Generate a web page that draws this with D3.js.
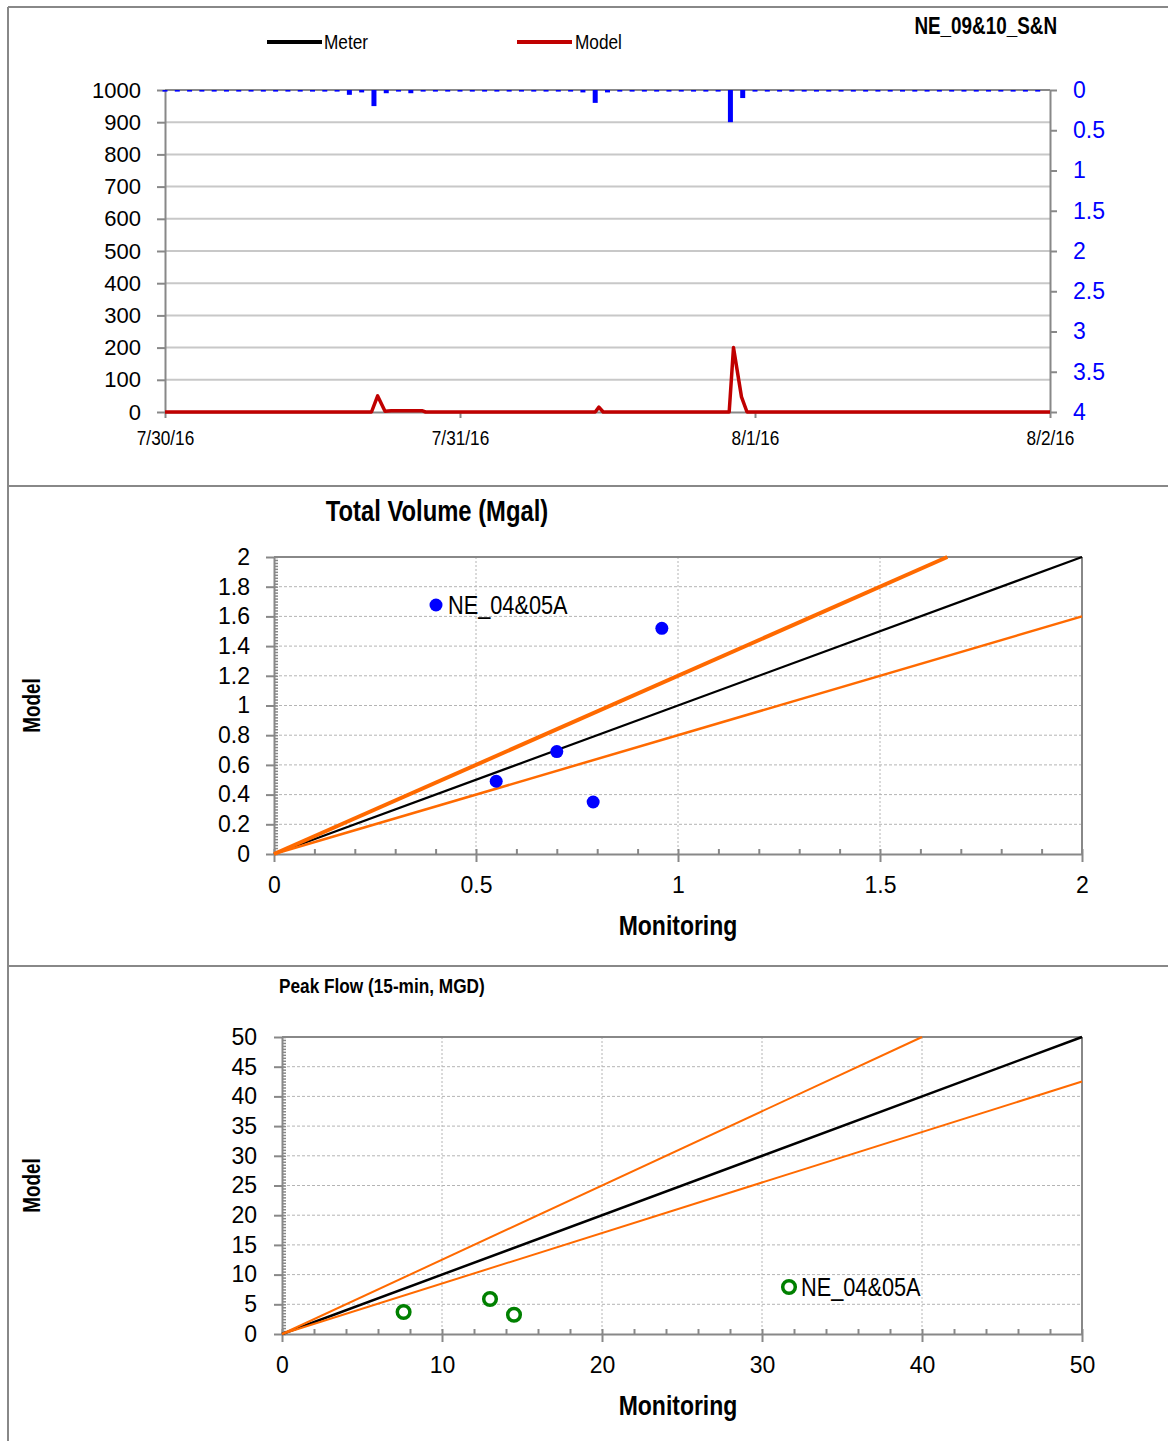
<!DOCTYPE html>
<html>
<head>
<meta charset="utf-8">
<script src="https://cdn.jsdelivr.net/npm/d3@7"></script>
<style>
body{margin:0;background:#fff;}
svg text{font-family:"Liberation Sans",Arial,sans-serif;fill:#000;}
</style>
</head>
<body>
<svg class="svg" width="1168" height="1441"></svg>
<script>
// ---- top chart: hydrograph + rainfall ----
let dateLabels = ['7/30/16','7/31/16','8/1/16','8/2/16'];
let flowTicks = [0,100,200,300,400,500,600,700,800,900,1000];
let rainTicks = [0,0.5,1,1.5,2,2.5,3,3.5,4];
// hourly rain (in), hour 0 = 7/30/16 00:00
let rainHourly = [
    0.02,0.02,0.02,0.02,0.02,0.02,0.02,0.02,0.02,0.02,0.02,0.02,
    0.02,0.02,0.02,0.06,0.03,0.2,0.04,0.02,0.04,0.02,0.02,0.02,
    0.02,0.02,0.02,0.02,0.02,0.02,0.02,0.02,0.02,0.02,0.03,0.16,
    0.03,0.02,0.02,0.02,0.02,0.02,0.02,0.02,0.02,0.02,0.4,0.1,
    0.02,0.02,0.02,0.02,0.02,0.02,0.02,0.02,0.02,0.02,0.02,0.02,
    0.02,0.02,0.02,0.02,0.02,0.02,0.02,0.02,0.02,0.02,0.02,0.02
];
let modelHours = [0,16.8,17.3,17.9,18.4,20.9,21.2,35.0,35.3,35.65,45.9,46.25,46.9,47.35,72];
let modelFlow  = [0,0,50,2,4,4,0,0,15,0,0,200,47,0,0];
let meterHours = [];
let meterFlow = [];

// ---- scatter charts ----
let volTicks = [0,0.2,0.4,0.6,0.8,1,1.2,1.4,1.6,1.8,2];
let volXTicks = [0,0.5,1,1.5,2];
let volMonitoring = [0.55,0.70,0.79,0.96];
let volModel = [0.49,0.69,0.35,1.52];
let volSlopes = [1,1.2,0.8];

let peakTicks = [0,5,10,15,20,25,30,35,40,45,50];
let peakXTicks = [0,10,20,30,40,50];
let peakMonitoring = [7.6,13.0,14.5];
let peakModel = [3.7,5.9,3.25];
let peakSlopes = [1,1.25,0.85];

let siteName = 'NE_04&05A';
let axisGray = '#888888';
let orange = '#ff6a00';

let svg = d3.select('.svg');

function hourDate(h) {
    return new Date(new Date(2016,6,30).getTime() + h*3600*1000);
}

function styleAxis(g, color) {
    g.selectAll('.domain').attr('stroke',axisGray).attr('stroke-width',2);
    g.selectAll('.tick line').attr('stroke',axisGray).attr('stroke-width',2);
    g.selectAll('.tick text').attr('fill',color || '#000');
}

// frame
svg.append('line').attr('x1',8).attr('y1',7).attr('x2',8).attr('y2',1441).attr('stroke',axisGray).attr('stroke-width',2);
svg.append('line').attr('x1',8).attr('y1',7).attr('x2',1168).attr('y2',7).attr('stroke',axisGray).attr('stroke-width',2);
svg.append('line').attr('x1',8).attr('y1',486).attr('x2',1168).attr('y2',486).attr('stroke',axisGray).attr('stroke-width',2);
svg.append('line').attr('x1',8).attr('y1',966).attr('x2',1168).attr('y2',966).attr('stroke',axisGray).attr('stroke-width',2);

function drawHydrograph() {
    let xTime = d3.scaleTime().domain([hourDate(0),hourDate(72)]).range([165,1050]);
    let flowY = d3.scaleLinear().domain([0,1000]).range([412,90]);
    let rainY = d3.scaleLinear().domain([0,4]).range([90,412]);

    let g = svg.append('g').attr('class','hydro');

    // gridlines
    g.selectAll('.grid').data(flowTicks.slice(1,-1)).enter().append('line')
        .attr('x1',165).attr('x2',1050)
        .attr('y1',function (d) { return flowY(d); })
        .attr('y2',function (d) { return flowY(d); })
        .attr('stroke','#c8c8c8').attr('stroke-width',2);
    g.append('line').attr('x1',165).attr('x2',1050).attr('y1',flowY(1000)).attr('y2',flowY(1000))
        .attr('stroke',axisGray).attr('stroke-width',2);

    let left = g.append('g').attr('transform','translate(165,0)')
        .call(d3.axisLeft(flowY).tickValues(flowTicks).tickSize(8).tickSizeOuter(0).tickPadding(16).tickFormat(d3.format('')));
    styleAxis(left);
    left.selectAll('.tick text').attr('font-size',22);

    let right = g.append('g').attr('transform','translate(1050,0)')
        .call(d3.axisRight(rainY).tickValues(rainTicks).tickSize(7).tickSizeOuter(0).tickPadding(16).tickFormat(d3.format('')));
    styleAxis(right,'#0000ff');
    right.selectAll('.tick text').attr('font-size',23).style('fill','#0000ff');

    let dates = dateLabels.map(function (d,i) { return hourDate(i*24); });
    let bottom = g.append('g').attr('transform','translate(0,412)')
        .call(d3.axisBottom(xTime).tickValues(dates).tickSize(6).tickSizeOuter(0).tickPadding(12)
            .tickFormat(function (d,i) { return dateLabels[i]; }));
    styleAxis(bottom);
    bottom.selectAll('.tick text').attr('font-size',21).attr('class','narrow');

    // rain bars hang from top
    g.selectAll('.rain').data(rainHourly).enter().append('rect')
        .attr('class','rain')
        .attr('x',function (d,i) { return xTime(hourDate(i)) - 2.5; })
        .attr('y',rainY(0))
        .attr('width',5)
        .attr('height',function (d) { return rainY(d) - rainY(0); })
        .attr('fill','#0000ff');

    let line = d3.line()
        .x(function (d) { return xTime(hourDate(d[0])); })
        .y(function (d) { return flowY(d[1]); });
    if (meterHours.length > 0) {
        g.append('path').datum(d3.zip(meterHours,meterFlow)).attr('d',line)
            .attr('fill','none').attr('stroke','#000').attr('stroke-width',3.5);
    }
    g.append('path').datum(d3.zip(modelHours,modelFlow)).attr('d',line)
        .attr('fill','none').attr('stroke','#c00000').attr('stroke-width',3.5)
        .attr('stroke-linejoin','round');

    // legend + title
    g.append('line').attr('x1',267).attr('x2',322).attr('y1',42).attr('y2',42).attr('stroke','#000').attr('stroke-width',4);
    g.append('text').attr('class','narrow').attr('x',324).attr('y',49).attr('font-size',21).text('Meter');
    g.append('line').attr('x1',517).attr('x2',572).attr('y1',42).attr('y2',42).attr('stroke','#c00000').attr('stroke-width',4);
    g.append('text').attr('class','narrow').attr('x',575).attr('y',49).attr('font-size',21).text('Model');
    g.append('text').attr('class','narrow').attr('x',1057).attr('y',34).attr('text-anchor','end')
        .attr('font-size',23).attr('font-weight','bold').text('NE_09&10_S&N');
}

function drawScatter(opt) {
    let x = d3.scaleLinear().domain([0,opt.max]).range([opt.left,1082]);
    let y = d3.scaleLinear().domain([0,opt.max]).range([opt.bottom,opt.top]);
    let g = svg.append('g');

    // dashed grid
    g.selectAll('.hgrid').data(opt.yTicks.slice(1,-1)).enter().append('line')
        .attr('x1',opt.left).attr('x2',1082)
        .attr('y1',function (d) { return y(d); }).attr('y2',function (d) { return y(d); })
        .attr('stroke','#b4b4b4').attr('stroke-width',1).attr('stroke-dasharray','3,2');
    g.selectAll('.vgrid').data(opt.xTicks.slice(1,-1)).enter().append('line')
        .attr('y1',opt.top).attr('y2',opt.bottom)
        .attr('x1',function (d) { return x(d); }).attr('x2',function (d) { return x(d); })
        .attr('stroke','#b4b4b4').attr('stroke-width',1).attr('stroke-dasharray','2,2');

    // box
    g.append('line').attr('x1',opt.left).attr('x2',1082).attr('y1',opt.top).attr('y2',opt.top)
        .attr('stroke',axisGray).attr('stroke-width',2);
    g.append('line').attr('x1',1082).attr('x2',1082).attr('y1',opt.top).attr('y2',opt.bottom)
        .attr('stroke',axisGray).attr('stroke-width',2);

    // minor ticks, inside
    let yMinor = g.append('g').attr('transform','translate(' + opt.left + ',0)')
        .call(d3.axisRight(y).ticks(100).tickSize(4).tickFormat(''));
    yMinor.select('.domain').remove();
    yMinor.selectAll('.tick line').attr('stroke',axisGray).attr('stroke-width',1.5);
    let xMinor = g.append('g').attr('transform','translate(0,' + opt.bottom + ')')
        .call(d3.axisTop(x).ticks(opt.xMinor).tickSize(5).tickFormat(''));
    xMinor.select('.domain').remove();
    xMinor.selectAll('.tick line').attr('stroke',axisGray).attr('stroke-width',2);

    let yAxis = g.append('g').attr('transform','translate(' + opt.left + ',0)')
        .call(d3.axisLeft(y).tickValues(opt.yTicks).tickSize(8).tickSizeOuter(0).tickPadding(opt.yPad).tickFormat(d3.format('')));
    styleAxis(yAxis);
    yAxis.selectAll('.tick text').attr('font-size',23);
    let xAxis = g.append('g').attr('transform','translate(0,' + opt.bottom + ')')
        .call(d3.axisBottom(x).tickValues(opt.xTicks).tickSize(8).tickSizeOuter(0).tickPadding(15).tickFormat(d3.format('')));
    styleAxis(xAxis);
    xAxis.selectAll('.tick text').attr('font-size',23);

    // reference lines
    g.selectAll('.ref').data(opt.slopes).enter().append('line')
        .attr('x1',x(0)).attr('y1',y(0))
        .attr('x2',function (d) { return x(Math.min(opt.max, opt.max / d)); })
        .attr('y2',function (d) { return y(Math.min(opt.max, opt.max / d) * d); })
        .attr('stroke',function (d,i) { return i === 0 ? '#000' : orange; })
        .attr('stroke-width',function (d,i) { return opt.widths[i]; });

    // points
    let pts = g.selectAll('.pt').data(d3.zip(opt.xs,opt.ys)).enter().append('circle')
        .attr('cx',function (d) { return x(d[0]); })
        .attr('cy',function (d) { return y(d[1]); });
    if (opt.hollow) {
        pts.attr('r',6.3).attr('fill','none').attr('stroke','#008000').attr('stroke-width',3.5);
    } else {
        pts.attr('r',6.5).attr('fill','#0000ff');
    }

    // legend
    let lg = g.append('g');
    if (opt.hollow) {
        lg.append('circle').attr('cx',opt.legend[0]).attr('cy',opt.legend[1]).attr('r',6.3)
            .attr('fill','none').attr('stroke','#008000').attr('stroke-width',3.5);
    } else {
        lg.append('circle').attr('cx',opt.legend[0]).attr('cy',opt.legend[1]).attr('r',6.5).attr('fill','#0000ff');
    }
    lg.append('text').attr('class','narrow').attr('x',opt.legend[0] + 12).attr('y',opt.legend[1] + 9)
        .attr('font-size',26.5).text(siteName);

    // titles
    g.append('text').attr('class','narrow').attr('x',678).attr('y',opt.bottom + 81)
        .attr('text-anchor','middle').attr('font-size',28).attr('font-weight','bold').text('Monitoring');
    g.append('text').attr('class','narrow')
        .attr('transform','translate(40,' + ((opt.top + opt.bottom) / 2) + ') rotate(-90)')
        .attr('text-anchor','middle').attr('font-size',23).attr('font-weight','bold').text('Model');
    let t = g.append('text').attr('class','narrow').attr('font-weight','bold')
        .attr('font-size',opt.titleSize).text(opt.title);
    if (opt.titleAnchor === 'middle') {
        t.attr('x',opt.titlePos[0]).attr('y',opt.titlePos[1]).attr('text-anchor','middle');
    } else {
        t.attr('x',opt.titlePos[0]).attr('y',opt.titlePos[1]);
    }
}

drawHydrograph();

drawScatter({
    max: 2, left: 274, top: 557, bottom: 854,
    yTicks: volTicks, xTicks: volXTicks, xMinor: 20, yPad: 16,
    xs: volMonitoring, ys: volModel, slopes: volSlopes, widths: [2.2,4,2.5],
    hollow: false, legend: [436,605],
    title: 'Total Volume (Mgal)', titleSize: 29, titleAnchor: 'middle', titlePos: [437,521]
});

drawScatter({
    max: 50, left: 282, top: 1037, bottom: 1334,
    yTicks: peakTicks, xTicks: peakXTicks, xMinor: 25, yPad: 17,
    xs: peakMonitoring, ys: peakModel, slopes: peakSlopes, widths: [2.5,2,2],
    hollow: true, legend: [789,1287],
    title: 'Peak Flow (15-min, MGD)', titleSize: 21, titleAnchor: 'start', titlePos: [279,993]
});

// no narrow face installed: squeeze these texts to Arial Narrow proportions
svg.selectAll('text.narrow').each(function () {
    let w = this.getComputedTextLength();
    d3.select(this).attr('textLength', w * 0.82).attr('lengthAdjust','spacingAndGlyphs');
});
</script>
</body>
</html>
